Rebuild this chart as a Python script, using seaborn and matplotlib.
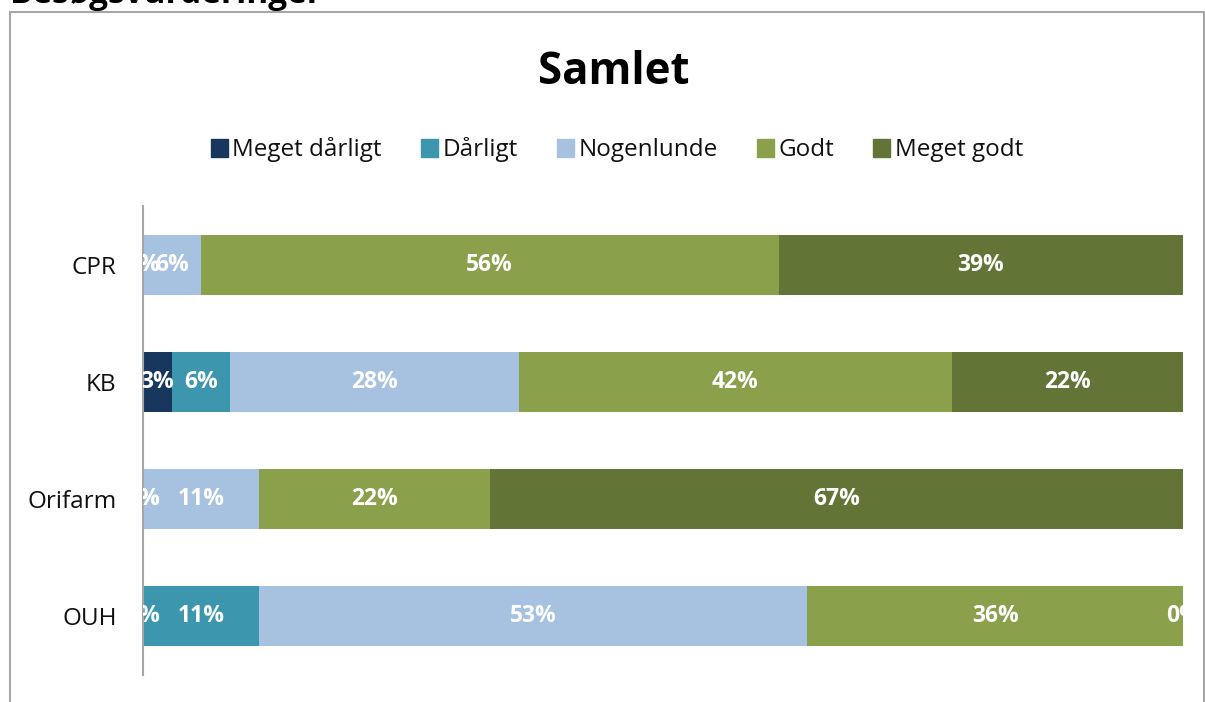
import matplotlib
matplotlib.use("Agg")
import matplotlib.pyplot as plt
import matplotlib.patches as mpatches
import seaborn as sns
import pandas as pd
import numpy as np

categories = ["CPR", "KB", "Orifarm", "OUH"]
series = ["Meget dårligt", "Dårligt", "Nogenlunde", "Godt", "Meget godt"]
meget_daarligt = [0.0, 2.78, 0.0, 0.0]
daarligt = [0.0, 5.56, 0.0, 11.11]
nogenlunde = [5.56, 27.78, 11.11, 52.78]
godt = [55.56, 41.67, 22.22, 36.11]
meget_godt = [38.89, 22.22, 66.67, 0.0]
colors = ["#17375E", "#3C97AE", "#A7C2E1", "#8AA04B", "#627436"]

values = [meget_daarligt, daarligt, nogenlunde, godt, meget_godt]

sns.set_theme(style="white")
plt.rcParams['font.family'] = ['Open Sans', 'DejaVu Sans']

fig = plt.figure(figsize=(12.05, 7.02), dpi=100)
ax = fig.add_axes([143/1205, 1-675/702, (1183-143)/1205, (675-206)/702])

df = pd.DataFrame({s: v for s, v in zip(series, values)}, index=categories)
cum = df.cumsum(axis=1)

# draw cumulative bars from the largest to the smallest so they stack
for s, c in reversed(list(zip(series, colors))):
    d = pd.DataFrame({"cat": categories, "val": cum[s].values})
    sns.barplot(data=d, y="cat", x="val", color=c, width=0.51, ax=ax,
                saturation=1, orient="h", linewidth=0)
if ax.get_legend() is not None:
    ax.get_legend().remove()

for i, cat in enumerate(categories):
    left = 0.0
    for s in series:
        w = df.loc[cat, s]
        ax.text(left + w/2, i, f"{w:.0f}%", ha="center", va="center",
                color="white", fontsize=16.5, fontweight="bold", clip_on=True)
        left += w

ax.set_xlim(0, 100)
ax.set_ylim(3.5, -0.5)
ax.set_xlabel("")
ax.set_ylabel("")
ax.set_xticks([])
ax.tick_params(axis="y", length=0, labelsize=17.5, pad=19, colors="#111111")
for sp in ["top", "right", "bottom"]:
    ax.spines[sp].set_visible(False)
ax.spines["left"].set_color("#A6A6A6")
ax.spines["left"].set_linewidth(1.5)

handles = [mpatches.Patch(color=c, label=s) for s, c in zip(series, colors)]
leg = fig.legend(handles=handles, loc="center", bbox_to_anchor=(617/1205, 1-150/702),
                 ncol=5, frameon=False, fontsize=17.5, handlelength=0.7, handleheight=0.7,
                 handletextpad=0.2, columnspacing=1.6)
for t in leg.get_texts():
    t.set_color("#111111")

fig.text(614/1205, 1-72/702, "Samlet", ha="center", va="center", fontsize=31.5,
         fontweight="bold", color="black")

fig.text(10/1205, 1-3/702, "Besøgsvurderinger", ha="left", va="baseline", fontsize=24,
         fontweight="bold", color="black")

border = mpatches.Rectangle((10/1205, -0.1), (1204-10)/1205, 1-12/702+0.1,
                            transform=fig.transFigure, fill=False,
                            edgecolor="#A6A6A6", linewidth=1.5)
fig.patches.append(border)

fig.savefig("out.png", dpi=100)
